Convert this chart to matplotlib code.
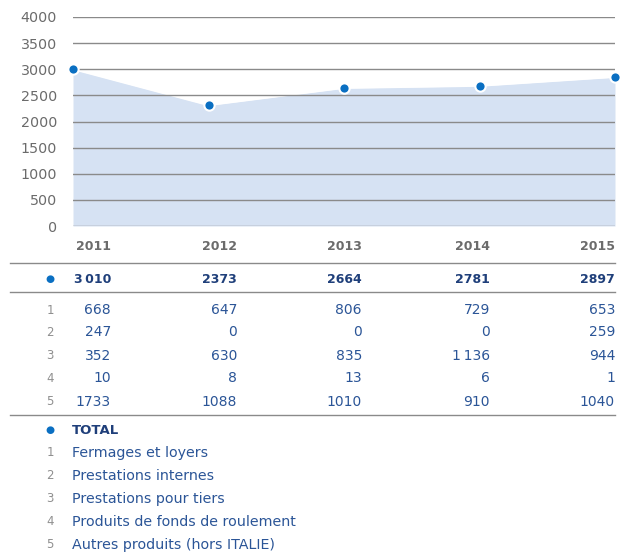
import matplotlib
matplotlib.use("Agg")
import matplotlib.pyplot as plt

years = ["2011", "2012", "2013", "2014", "2015"]
chart_values = [3000, 2310, 2640, 2680, 2850]
total_labels = ["3\u2009010", "2373", "2664", "2781", "2897"]
row_numbers = ["1", "2", "3", "4", "5"]
rows = [
    ["668", "647", "806", "729", "653"],
    ["247", "0", "0", "0", "259"],
    ["352", "630", "835", "1\u2009136", "944"],
    ["10", "8", "13", "6", "1"],
    ["1733", "1088", "1010", "910", "1040"],
]
legend_labels = ["Fermages et loyers", "Prestations internes", "Prestations pour tiers",
                 "Produits de fonds de roulement", "Autres produits (hors ITALIE)"]
yticks = [0, 500, 1000, 1500, 2000, 2500, 3000, 3500, 4000]

plt.rcParams['font.family'] = ['DejaVu Sans']

W, H = 629, 554
fig = plt.figure(figsize=(W / 100, H / 100), dpi=100)

def fx(x):
    return x / W

def fy(y):
    return 1 - y / H

ax = fig.add_axes([fx(73), fy(226), fx(615) - fx(73), fy(17) - fy(226)])
xs = list(range(len(years)))
ax.fill_between(xs, chart_values, 0, color="#d6e2f3", lw=0, zorder=1)
ax.plot(xs, chart_values, color="white", lw=1.2, zorder=2)
for t in yticks:
    ax.axhline(t, color="#8a8a8a", lw=1.0, zorder=3)
ax.scatter(xs, chart_values, s=55, color="#0a6fc2", edgecolor="white", linewidth=1.5, zorder=5, clip_on=False)
ax.set_xlim(0, 4)
ax.set_ylim(0, 4000)
ax.set_yticks(yticks)
ax.set_yticklabels([str(t) for t in yticks], color="#6b6b6b", fontsize=10.3)
ax.tick_params(axis="y", length=0, pad=11.5)
ax.set_xticks([])
for s in ax.spines.values():
    s.set_visible(False)

col_right = [111, 237, 362, 490, 615]
dark = "#1f3f7a"
blue = "#2b5597"
gray = "#8f8f8f"

for x, yr in zip(col_right, years):
    fig.text(fx(x), fy(245), yr, ha="right", va="center_baseline", fontsize=9, fontweight="bold", color="#6b6b6b")

fig.add_artist(plt.Line2D([fx(10), fx(615)], [fy(263), fy(263)], color="#8a8a8a", lw=1))
fig.add_artist(plt.Line2D([fx(10), fx(615)], [fy(292), fy(292)], color="#8a8a8a", lw=1))
fig.add_artist(plt.Line2D([fx(10), fx(615)], [fy(415), fy(415)], color="#8a8a8a", lw=1))

fig.text(fx(50), fy(279), "●", ha="center", va="center", fontsize=7.5, color="#0a6fc2")
for x, v in zip(col_right, total_labels):
    fig.text(fx(x), fy(278), v, ha="right", va="center_baseline", fontsize=9, fontweight="bold", color=dark)

row_y = [309, 331, 354, 377, 400]
for y, num, vals in zip(row_y, row_numbers, rows):
    fig.text(fx(50), fy(y), num, ha="center", va="center_baseline", fontsize=8.5, color=gray)
    for x, v in zip(col_right, vals):
        fig.text(fx(x), fy(y), v, ha="right", va="center_baseline", fontsize=10, color=blue)

fig.text(fx(50), fy(430), "●", ha="center", va="center", fontsize=7.5, color="#0a6fc2")
fig.text(fx(72), fy(429), "TOTAL", ha="left", va="center_baseline", fontsize=9.5, fontweight="bold", color=dark)
leg_y = [451, 474, 497, 520, 543]
for y, num, lab in zip(leg_y, row_numbers, legend_labels):
    fig.text(fx(50), fy(y), num, ha="center", va="center_baseline", fontsize=8.5, color=gray)
    fig.text(fx(72), fy(y), lab, ha="left", va="center_baseline", fontsize=10.3, color=blue)

fig.savefig("out.png", dpi=100)
